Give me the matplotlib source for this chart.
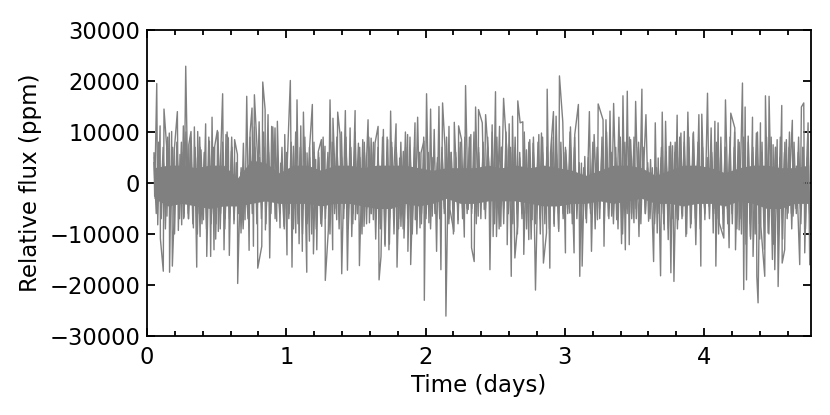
import numpy as np
import matplotlib
matplotlib.use("Agg")
import matplotlib.pyplot as plt
from matplotlib.ticker import MultipleLocator

# Sharp excursions: time in days, flux in thousands of ppm
time_a = [.05,.055,.07,.077,.094,.096,.122,.117,.141,.143,.16,.162,.177,.182,.196,.194,.218,.225,.237,.249,.261,.266,.278,.297,.3,.316,.333,.34,.357,.364,.381,.388,.405,.421,.429,.448,.457,.467,.481,.486,.505,.512,.543,.553,.567,.584,.591,.606,.629,.627,.649,.651,.668,.675,.692,.704,.716,.733,.74,.754,.764,.771,.795,.792,.824,.831,.848,.85,.869,.881,.895,.907,.919,.931,.936,.955,.96,.984,.989,1.005,1.008,1.029,1.041,1.051,1.068,1.077,1.092,1.104,1.115,1.123,1.147,1.149,1.166,1.168,1.187,1.195,1.211,1.219,1.23,1.252,1.254,1.278,1.28,1.302,1.314,1.333,1.335,1.362,1.369,1.386,1.398,1.424,1.439,1.458,1.47,1.494,1.496,1.518,1.525,1.549,1.558,1.587,1.597,1.609,1.625,1.637,1.659,1.666]
flux_a = [5.9,-2.6,19.5,-8.2,11.2,-10.9,14.5,-17.3,7.2,-6.5,9.8,-17.5,10.1,-16.3,6.5,-7.2,14,-9.3,5.6,-8.2,11.2,-6.7,22.9,-7,7.5,10.1,-8.8,11,-16.5,10.1,-10.5,6.5,-7.2,11.6,-14.4,8.2,-14.4,12.9,-13.1,7.2,10.3,-9.5,17.5,-13.1,9.5,8.8,-14.2,6.2,8.5,-7.2,5.6,-19.7,-2,-9.8,7.8,-7.2,17,-13.2,9.8,14.7,-12.4,17.3,-16.7,5.9,-12.4,19.8,14.4,-9.2,13.4,-14.7,11.1,-3.3,10.8,-7.5,12.1,-8.8,3.9,-8.5,9.5,-14.1,4.6,20.1,-16.5,7.2,-9.8,16.3,-11.9,11.2,-13.4,13.9,-17.5,5.9,-11.4,7.2,15.4,-13.9,4.6,-13.1,6.2,8.5,-8.5,7.2,-19.1,-9.2,16.3,-13.1,12.7,-7.2,13.9,9.5,-17.8,14.2,-17.1,10.8,-10.5,14.2,-7.2,7.8,-16.2,8.5,-8.5,12.4,-7.8,8.8,-7.2,7.8,11.1,-19]
time_b = [1.68,1.697,1.709,1.728,1.737,1.749,1.761,1.788,1.795,1.814,1.823,1.84,1.845,1.871,1.873,1.89,1.893,1.924,1.926,1.943,1.96,1.967,1.988,1.991,2.007,2.024,2.036,2.048,2.062,2.079,2.096,2.11,2.122,2.139,2.146,2.168,2.175,2.203,2.206,2.235,2.237,2.258,2.278,2.287,2.306,2.325,2.33,2.349,2.359,2.378,2.38,2.407,2.421,2.431,2.454,2.462,2.478,2.485,2.502,2.509,2.531,2.54,2.56,2.583,2.586,2.6,2.615,2.624,2.641,2.66,2.662,2.679,2.698,2.705,2.724,2.741,2.748,2.765,2.772,2.789,2.813,2.82,2.832,2.846,2.868,2.873,2.892,2.897,2.918,2.923,2.937,2.956,2.961,2.985,3.004,3.006,3.035,3.04,3.066,3.071,3.097,3.107,3.119,3.124,3.143,3.155,3.176,3.191,3.21,3.234,3.239,3.274,3.281]
flux_b = [-14.4,10.5,-12.4,8.5,-13.1,14.1,-3.9,11.6,-16.5,4.9,-8.5,6.2,-10.8,9.5,-13.4,5.9,-16,11.8,-7.2,12.9,-8.8,5.9,8.2,-23,17.5,-7.8,14.5,-6.5,10.5,-13.4,15,-17,15.7,7.2,-26.1,11.1,-5.2,-9.5,11.9,-7.2,11.2,8.5,-10.6,19.1,-5.2,9.5,-12.7,-15.4,14.9,-6.5,14.4,11.8,-5.2,13.4,3.9,-17,11.4,-10.5,17.9,-10.5,11.1,-8.5,16.6,6.5,-12.1,11.6,-18.3,13.1,-14.7,-8.5,16.1,11.8,12,-14,6.5,-11.1,8.5,-7.2,7.8,-21,9.5,-4.6,9.8,-15.7,-9.8,18.4,-16.7,5.9,14,-8.5,13.1,-9.5,21,12,-13.7,6.5,-5.9,11,-13.7,9.5,15.4,-18.3,3.9,-16.3,5.2,-7.8,14,-13.4,9.5,-7.2,15.5,12.4,-12.4]
time_c = [3.295,3.312,3.324,3.336,3.35,3.372,3.388,3.407,3.417,3.434,3.448,3.462,3.472,3.496,3.508,3.532,3.553,3.558,3.582,3.601,3.615,3.637,3.649,3.663,3.67,3.687,3.699,3.713,3.723,3.742,3.749,3.761,3.773,3.783,3.806,3.814,3.833,3.845,3.857,3.869,3.883,3.902,3.921,3.94,3.962,3.976,3.983,4.005,4.024,4.036,4.05,4.065,4.077,4.084,4.1,4.108,4.141,4.153,4.179,4.191,4.22,4.225,4.244,4.251,4.275,4.284,4.294,4.304,4.316,4.332,4.347,4.351,4.375,4.378,4.387,4.404,4.407,4.435,4.44,4.459,4.466,4.49,4.495,4.507,4.524,4.531,4.557,4.56,4.578,4.59,4.602,4.633,4.638,4.662,4.686,4.698,4.715,4.722,4.746,4.758]
flux_c = [12.4,-6.5,14.1,-6.5,15.6,-7.2,12.9,-11.9,17.1,-13.1,18,-12.1,8.5,-7.8,16,-10.5,18.4,-2,13.4,-7.5,4.6,-15.4,11.8,-9.8,4.9,-18.2,13.9,-9.2,12.1,-11.1,7.2,-17.6,7.3,-19.3,13.3,-7.2,9.8,-6.5,10.1,-10.5,13.9,-8.8,9.7,-12.1,13.4,-16.3,13.5,-7.2,17.6,-4.6,10.8,-9.8,12.1,-16.3,11.8,-7.8,-10.8,16.3,-12.7,13.7,10.8,-13.1,8.5,-9.2,19.6,-20.9,14.9,-19,9.2,-10.5,12.9,-14.4,9.8,-18.3,-23.5,11.8,-8.5,-18.3,17.1,-9.8,17,-15,7.5,-17,8.5,-20.3,15.2,-15.7,-13.1,8.5,-5.9,12.3,-6.5,3.3,-16,14.9,15.7,-13.7,11.8,-16]

# Body of the trace between the excursions, thousands of ppm, in time order
flux_mid = [4,-6,8,-5,7,-9, 9,-7,6,-10,8,-6, 8,-7,10,-6,9,-8, 7,-10,9,-8,6,-9,
            9,-8,7,-11,10,-9, 8,-9,10,-7,9,-8, 4,-6,2,-9,1,-5, 9,-6,11,-8,12,-7,
            10,-8,9,-6,11,-7, 5,-6,7,-9,6,-7, 8,-9,10,-8,7,-10, 9,-8,7,-10,8,-9,
            6,-8,9,-7,5,-10, 8,-6,9,-9,10,-7, 9,-9,7,-8,10,-6, 7,-10,8,-8,9,-6,
            8,-11,7,-9,9,-12, 9,-12,8,-10,7,-9, 8,-9,10,-7,9,-10, 7,-10,6,-8,9,-7,
            6,-9,5,-6,4,-7, 7,-6,9,-8,6,-10, 6,-8,8,-7,9,-6, 9,-6,10,-8,7,-7,
            8,-7,9,-5,10,-8, 9,-9,7,-8,10,-6, 7,-8,9,-10,6,-7, 10,-9,8,-11,9,-8,
            8,-10,9,-8,7,-9, 9,-8,6,-9,8,-7, 7,-6,10,-8,9,-7, 4,-6,3,-7,5,-6,
            8,-9,7,-7,9,-8, 10,-7,6,-8,7,-9, 9,-10,8,-6,9,-7, 9,-7,8,-8,7,-6,
            4,-7,3,-8,2,-6, 7,-8,6,-9,8,-7, 8,-9,9,-7,8,-10, 9,-8,10,-6,8,-9,
            7,-6,5,-7,6,-5, 8,-10,9,-9,7,-8, 9,-8,10,-9,8,-10, 9,-12,8,-11,7,-10,
            10,-11,8,-13,9,-10, 9,-12,7,-10,9,-11, 8,-7,10,-9,8,-6, 9,-8,7,-9,10,-9]
flux_inner = [5,-4,6,-7,4,-5, 6,-5,7,-4,5,-7, 6,-6,5,-7,6,-5, 5,-6,7,-5,6,-7,
              7,-6,5,-8,6,-6, 6,-7,5,-6,7,-5, 2,-5,3,-6,2,-7, 6,-4,7,-6,5,-5,
              7,-5,6,-6,5,-4, 3,-6,4,-5,5,-6, 6,-5,5,-6,7,-5, 6,-6,5,-7,6,-5,
              5,-6,4,-5,6,-7, 6,-5,7,-6,5,-5, 6,-5,7,-6,5,-6, 5,-7,6,-5,7,-6,
              6,-7,5,-8,6,-6, 6,-7,7,-5,6,-7, 5,-6,7,-5,6,-7, 5,-5,6,-6,4,-6,
              4,-5,3,-6,5,-4, 6,-5,5,-7,6,-5, 5,-6,7,-5,6,-5, 7,-5,5,-6,6,-4,
              6,-5,7,-6,5,-5, 5,-6,7,-5,6,-6, 6,-5,7,-6,5,-6, 7,-6,5,-7,6,-6,
              5,-7,6,-6,7,-5, 6,-5,7,-6,5,-6, 6,-5,5,-6,7,-5, 3,-5,2,-4,3,-5,
              5,-6,7,-5,6,-6, 7,-5,6,-6,5,-6, 6,-7,5,-5,7,-6, 6,-5,7,-6,5,-6,
              3,-5,2,-6,3,-4, 5,-6,6,-5,7,-6, 6,-7,5,-6,7,-5, 7,-5,6,-7,5,-6,
              4,-5,3,-4,5,-6, 6,-7,5,-6,7,-5, 6,-6,7,-5,6,-7, 6,-7,5,-8,6,-6,
              7,-8,6,-7,5,-6, 6,-8,7,-6,5,-7, 6,-5,7,-6,5,-5, 6,-5,7,-6,5,-6]

# Limits of the solid central band, thousands of ppm, every 0.1 day
core_hi = [3,3.5,3.5,3,3.5,3.5,1,4.5,4,2,3.5,3.5,2.5,3.5,3.5,3,3.5,3.5,3.5,3,2.5,3,3,3,3.5,3,3.5,3,3.5,3,2.5,1.5,2.5,3.5,3.5,3,1.5,2.5,3.5,3.5,3,2,3,3.5,3.5,3,3,3.5]
core_lo = [-3,-4.5,-4,-4.5,-5,-4.5,-4.5,-4,-3.5,-4,-4,-4,-4.5,-4,-4,-4.5,-5,-5,-4,-4.5,-4,-3,-4,-4,-3.5,-3.5,-3.5,-4,-4.5,-4.5,-4,-4,-3.5,-4,-3.5,-3,-4,-4,-4.5,-4,-4,-4.5,-3.5,-4,-5,-5,-4,-4]

mid_span = (0.05, 4.76)
inner_span = (0.053, 4.757)
core_span = (0.05, 4.75)
xticks = [0, 1, 2, 3, 4]
yticks = [-30000, -20000, -10000, 0, 10000, 20000, 30000]

GRAY = "#808080"
LINE = 1.0

t = np.array(time_a + time_b + time_c)
flux = np.array(flux_a + flux_b + flux_c) * 1000.0
order = np.argsort(t)
mid_t = np.linspace(*mid_span, len(flux_mid))
inner_t = np.linspace(*inner_span, len(flux_inner))
core_t = np.linspace(*core_span, len(core_hi))

fig = plt.figure(figsize=(8.3, 4.15), dpi=100)
ax = fig.add_axes([147 / 830, 1 - 336 / 415, (811 - 147) / 830, (336 - 30) / 415])
ax.fill_between(core_t, np.array(core_lo) * 1000, np.array(core_hi) * 1000,
                color=GRAY, lw=0)
ax.plot(inner_t, np.array(flux_inner) * 1000.0, color=GRAY, lw=LINE)
ax.plot(mid_t, np.array(flux_mid) * 1000.0, color=GRAY, lw=LINE)
ax.plot(t[order], flux[order], color=GRAY, lw=LINE)

ax.set_xlim(0, 4.767)
ax.set_ylim(-30000, 30000)
ax.set_xticks(xticks)
ax.set_yticks(yticks)
ax.xaxis.set_minor_locator(MultipleLocator(0.2))
ax.tick_params(which="major", direction="in", top=True, right=True,
               length=6, width=1.3, labelsize=16.3)
ax.tick_params(axis="x", which="major", pad=7)
ax.tick_params(axis="y", which="major", pad=5)
ax.tick_params(which="minor", axis="x", direction="in", top=True, length=3.5, width=1.3)
for s in ax.spines.values():
    s.set_linewidth(1.3)
ax.set_xlabel("Time (days)", fontsize=16.5, labelpad=4)
ax.set_ylabel("Relative flux (ppm)", fontsize=16.5, labelpad=5)
fig.savefig("out.png", dpi=100)
